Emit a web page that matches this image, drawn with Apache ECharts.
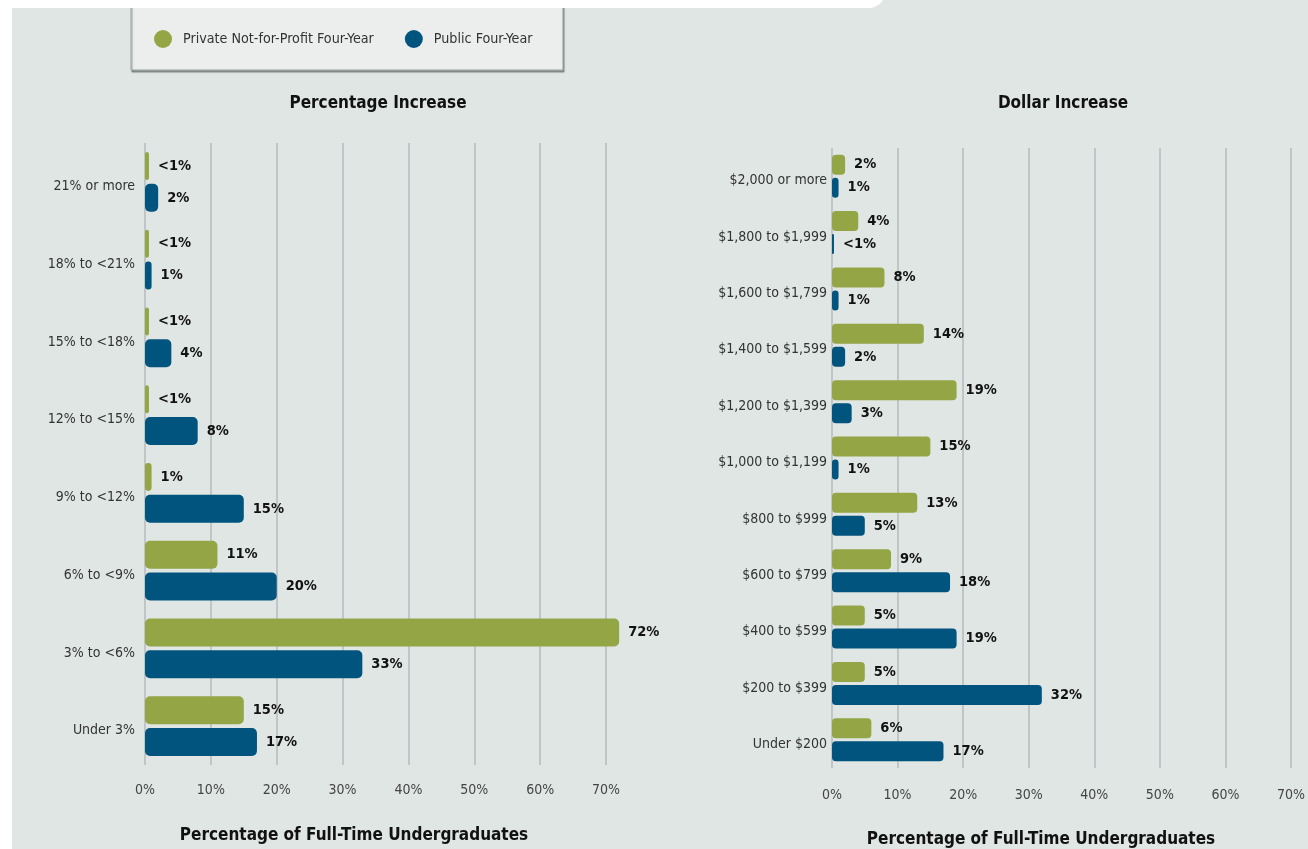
<!DOCTYPE html>
<html>
<head>
<meta charset="utf-8">
<style>
  html, body { margin: 0; padding: 0; background: #ffffff; }
  #chart { width: 1308px; height: 849px; }
</style>
<script src="https://cdn.jsdelivr.net/npm/echarts@6/dist/echarts.min.js"></script>
</head>
<body>
<div id="chart"></div>
<script>
// Tuition increase distribution, full-time undergraduates
const seriesNames = ['Private Not-for-Profit Four-Year', 'Public Four-Year'];

const pctCategories = ['21% or more', '18% to <21%', '15% to <18%', '12% to <15%',
  '9% to <12%', '6% to <9%', '3% to <6%', 'Under 3%'];
const pctPrivate = [0.6, 0.6, 0.6, 0.6, 1, 11, 72, 15];
const pctPublic = [2, 1, 4, 8, 15, 20, 33, 17];

const dollarCategories = ['$2,000 or more', '$1,800 to $1,999', '$1,600 to $1,799',
  '$1,400 to $1,599', '$1,200 to $1,399', '$1,000 to $1,199', '$800 to $999',
  '$600 to $799', '$400 to $599', '$200 to $399', 'Under $200'];
const dollarPrivate = [2, 4, 8, 14, 19, 15, 13, 9, 5, 5, 6];
const dollarPublic = [1, 0.3, 1, 2, 3, 1, 5, 18, 19, 32, 17];

const GREEN = '#93a545';
const BLUE = '#00547e';
const FONT = '"Liberation Sans Narrow", "DejaVu Sans Condensed", "Roboto", sans-serif';

const chart = echarts.init(document.getElementById('chart'), null, { renderer: 'canvas' });

const valueLabel = (p) => (p.value < 1 ? '<1%' : p.value + '%');

function xAxisFor(gridIndex, margin) {
  return {
    type: 'value', gridIndex, min: 0, max: 70, interval: 10,
    axisLine: { show: false }, axisTick: { show: false },
    axisLabel: { formatter: '{value}%', color: '#444', fontFamily: FONT, fontSize: 14, margin },
    splitLine: { show: true, lineStyle: { color: '#c2c5c8', width: 2 } }
  };
}
function yAxisFor(gridIndex, data, margin) {
  return {
    type: 'category', gridIndex, data, inverse: true,
    axisLine: { show: false }, axisTick: { show: false },
    // top-aligned short line box drops each label a few pixels below the bar pair's centre
    axisLabel: { color: '#333', fontFamily: FONT, fontSize: 14, margin, verticalAlign: 'top', lineHeight: 9 }
  };
}
function barSeries(name, data, idx, color, width, gap, catGap, radius) {
  return {
    type: 'bar', name, data, xAxisIndex: idx, yAxisIndex: idx,
    barWidth: width, barGap: gap, barCategoryGap: catGap, clip: false,
    itemStyle: { color, borderRadius: radius },
    label: {
      show: true, position: 'right', distance: 9, formatter: valueLabel,
      color: '#111', fontWeight: 'bold', fontFamily: FONT, fontSize: 14.5
    },
    emphasis: { disabled: true }
  };
}

chart.setOption({
  backgroundColor: '#e0e6e3',
  animation: false,
  graphic: [
    { type: 'rect', shape: { x: 0, y: 0, width: 12, height: 849 }, style: { fill: '#ffffff' }, z: -1 },
    { type: 'rect', shape: { x: 131, y: -5, width: 432, height: 75 },
      style: { fill: '#eceeed', stroke: '#9ba39f', lineWidth: 1, shadowColor: 'rgba(90,100,95,0.6)', shadowOffsetX: 1, shadowOffsetY: 2, shadowBlur: 1 }, z: -2 },
    { type: 'rect', shape: { x: -20, y: -30, width: 905, height: 38, r: 16 }, style: { fill: '#ffffff' }, z: -1 },
    { type: 'text', style: { x: 378, y: 104, text: 'Percentage Increase', fill: '#111', font: 'bold 17px ' + FONT, textAlign: 'center', textVerticalAlign: 'middle' } },
    { type: 'text', style: { x: 1063, y: 104, text: 'Dollar Increase', fill: '#111', font: 'bold 17px ' + FONT, textAlign: 'center', textVerticalAlign: 'middle' } },
    { type: 'text', style: { x: 354, y: 836, text: 'Percentage of Full-Time Undergraduates', fill: '#111', font: 'bold 17px ' + FONT, textAlign: 'center', textVerticalAlign: 'middle' } },
    { type: 'text', style: { x: 1041, y: 840, text: 'Percentage of Full-Time Undergraduates', fill: '#111', font: 'bold 17px ' + FONT, textAlign: 'center', textVerticalAlign: 'middle' } }
  ],
  legend: {
    left: 149, top: 25, itemWidth: 18, itemHeight: 18, itemGap: 31, icon: 'circle',
    data: seriesNames,
    textStyle: { color: '#333', fontFamily: FONT, fontSize: 14.2, padding: [0, 0, 0, 6] },
    selectedMode: false
  },
  grid: [
    { left: 145, right: 702, top: 143, height: 622 },
    { left: 832, right: 16, top: 148, height: 620 }
  ],
  xAxis: [xAxisFor(0, 18), xAxisFor(1, 20)],
  yAxis: [yAxisFor(0, pctCategories, 10), yAxisFor(1, dollarCategories, 5)],
  series: [
    barSeries(seriesNames[0], pctPrivate, 0, GREEN, 28, '14%', '23%', 5),
    barSeries(seriesNames[1], pctPublic, 0, BLUE, 28, '14%', '23%', 5),
    barSeries(seriesNames[0], dollarPrivate, 1, GREEN, 20, '15%', '24%', 4),
    barSeries(seriesNames[1], dollarPublic, 1, BLUE, 20, '15%', '24%', 4)
  ]
});
</script>
</body>
</html>
